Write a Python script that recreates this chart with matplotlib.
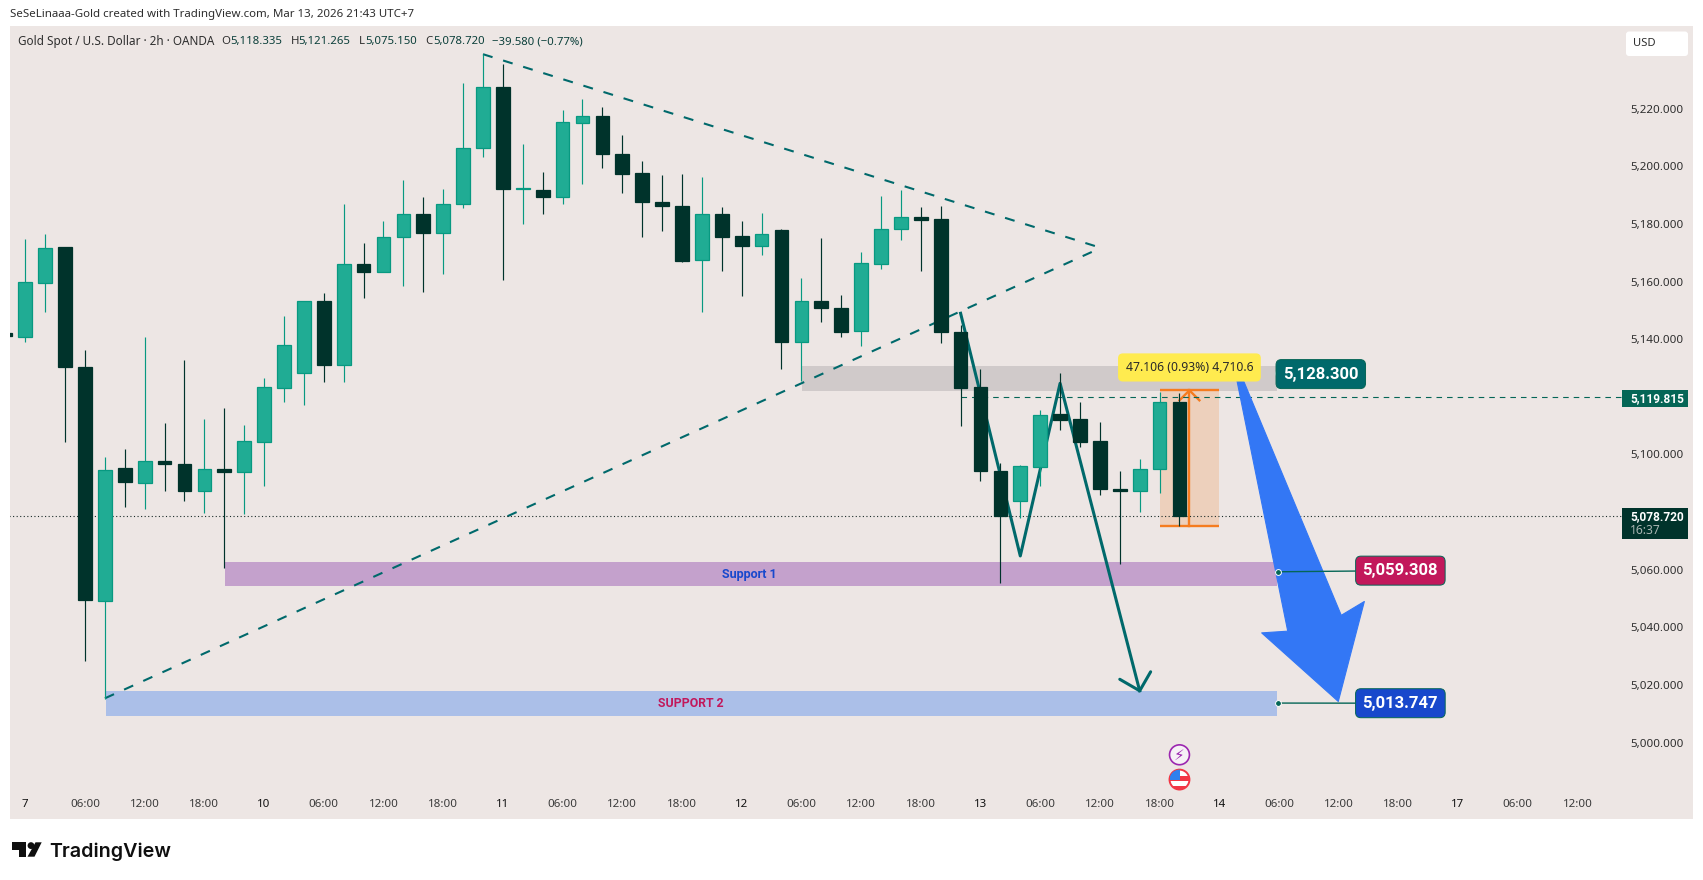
import matplotlib
matplotlib.use("Agg")
import matplotlib.pyplot as plt
from matplotlib.patches import Rectangle, Polygon, Ellipse, Circle, FancyBboxPatch
from matplotlib.transforms import IdentityTransform

plt.rcParams['font.family'] = ['Noto Sans', 'DejaVu Sans']

# ============================================================
# Data
# ============================================================
bar_index = list(range(-1, 59))
opens = [5142.0, 5140.9, 5159.6, 5172.0, 5130.5, 5049.2, 5095.4, 5090.0, 5097.9, 5096.7,
         5087.2, 5094.9, 5093.8, 5104.4, 5123.2, 5128.4, 5153.3, 5130.9, 5166.0, 5163.4,
         5175.3, 5183.4, 5177.0, 5186.9, 5206.4, 5227.4, 5192.0, 5191.9, 5189.2, 5215.1,
         5217.3, 5204.1, 5197.6, 5187.6, 5186.3, 5167.4, 5183.4, 5175.7, 5172.5, 5177.9,
         5138.9, 5153.3, 5150.8, 5142.7, 5166.2, 5178.1, 5182.4, 5181.8, 5142.6, 5123.3,
         5094.3, 5083.7, 5095.8, 5114.0, 5112.3, 5104.6, 5088.1, 5087.2, 5094.9, 5118.335]
highs = [5142.0, 5174.8, 5176.5, 5172.0, 5136.3, 5099.2, 5102.0, 5140.9, 5110.9, 5132.9,
         5112.2, 5116.2, 5110.4, 5126.5, 5148.2, 5153.3, 5155.9, 5187.0, 5173.3, 5181.1,
         5195.2, 5189.3, 5192.1, 5228.8, 5238.9, 5235.5, 5207.6, 5197.9, 5219.4, 5223.4,
         5220.5, 5210.7, 5202.0, 5196.9, 5197.2, 5196.2, 5185.8, 5180.9, 5183.7, 5178.3,
         5161.4, 5175.0, 5155.5, 5170.1, 5189.7, 5191.8, 5185.8, 5186.2, 5144.8, 5129.6,
         5097.0, 5096.4, 5115.4, 5128.2, 5118.1, 5111.2, 5094.3, 5098.4, 5121.8, 5121.265]
lows = [5141.0, 5138.9, 5149.6, 5104.3, 5028.3, 5015.1, 5081.8, 5081.1, 5087.2, 5084.0,
        5079.8, 5060.7, 5079.4, 5089.2, 5118.3, 5117.2, 5125.0, 5125.0, 5154.4, 5163.4,
        5158.5, 5156.5, 5162.6, 5185.4, 5203.3, 5160.6, 5180.1, 5183.6, 5186.8, 5194.0,
        5199.5, 5190.8, 5175.6, 5177.4, 5166.9, 5149.3, 5163.8, 5155.0, 5169.2, 5129.8,
        5125.6, 5146.1, 5140.6, 5137.5, 5164.5, 5174.5, 5163.8, 5138.6, 5110.0, 5090.8,
        5055.3, 5077.8, 5088.9, 5108.6, 5102.7, 5085.8, 5061.9, 5079.9, 5086.5, 5075.15]
closes = [5141.0, 5159.7, 5171.6, 5130.2, 5049.6, 5094.7, 5090.4, 5097.8, 5096.6, 5087.2,
          5094.9, 5093.8, 5104.6, 5123.3, 5138.0, 5153.3, 5130.9, 5166.0, 5163.4, 5175.4,
          5183.4, 5177.0, 5186.9, 5206.5, 5227.4, 5192.0, 5192.4, 5189.5, 5215.3, 5217.3,
          5204.3, 5197.5, 5187.5, 5186.1, 5167.3, 5183.4, 5175.6, 5172.5, 5176.4, 5138.9,
          5153.3, 5150.7, 5142.4, 5166.3, 5178.2, 5182.4, 5181.5, 5142.6, 5123.2, 5094.1,
          5078.7, 5095.9, 5113.6, 5112.1, 5104.5, 5088.2, 5087.2, 5094.9, 5118.2, 5078.72]

y_ticks = [5000, 5020, 5040, 5060, 5080, 5100, 5120, 5140, 5160, 5180, 5200, 5220]
x_tick_pos = list(range(0, 81, 3))
x_tick_labels = ['7', '06:00', '12:00', '18:00', '10', '06:00', '12:00', '18:00', '11',
                 '06:00', '12:00', '18:00', '12', '06:00', '12:00', '18:00', '13',
                 '06:00', '12:00', '18:00', '14', '06:00', '12:00', '18:00', '17',
                 '06:00', '12:00']

last_price = 5078.72
prev_close = 5119.815
anchor_x = 62.94
level_prices = [5128.3, 5059.308, 5013.747]
level_labels = ['5,128.300', '5,059.308', '5,013.747']
level_colors = ['#00696B', '#C2185B', '#1848CC']
level_label_x = [65.1, 69.1, 69.1]
level_label_y = [5127.9, 5059.7, 5013.7]

trend_low_x, trend_low_y = [4, 54.05], [5015.4, 5171.7]
trend_high_x, trend_high_y = [23, 54.05], [5238.9, 5171.7]
zigzag_x, zigzag_y = [47, 50, 52, 56], [5149.0, 5064.8, 5124.7, 5018.0]
head_x, head_y = [55.0, 56.0, 56.55], [5022.0, 5018.0, 5024.6]
blue_arrow_x = [60.88, 61.2, 66.13, 67.29, 65.98, 62.13, 63.44]
blue_arrow_y = [5125.9, 5125.9, 5044.2, 5049.0, 5014.3, 5038.1, 5038.7]

# bg and colours
PANEL = '#EDE6E4'
UP_FILL, UP_EDGE = '#20AC94', '#089981'
DOWN = '#00332B'
TEAL = '#00696B'
ORANGE = '#F57C1F'

W, H = 1703, 880


def px_x(x):
    return x / W


def px_y(y):
    return 1 - y / H


def draw_candles(ax):
    for i, o, h, l, c in zip(bar_index, opens, highs, lows, closes):
        up = c >= o
        ax.vlines(i, l, h, color=UP_EDGE if up else DOWN, linewidth=0.85, zorder=4)
        ax.bar(i, abs(c - o), bottom=min(o, c), width=0.69, zorder=5, linewidth=0.9,
               color=UP_FILL if up else DOWN, edgecolor=UP_EDGE if up else DOWN)


def draw_zones(ax):
    # rectangles sit under the candles
    ax.add_patch(Rectangle((39.03, 5122.1), 62.9 - 39.03, 8.6, color='#D0CACA', lw=0, zorder=1))
    ax.add_patch(Rectangle((10.03, 5054.4), 62.9 - 10.03, 8.3, color='#C4A1CC', lw=0, zorder=1))
    ax.add_patch(Rectangle((4.05, 5009.3), 62.9 - 4.05, 8.6, color='#ABBFE8', lw=0, zorder=1))
    ax.text(36.4, 5058.5, 'Support 1', color='#1848CC', fontsize=9.0, family='Roboto', fontweight='bold',
            ha='center', va='center', zorder=2)
    ax.text(33.44, 5013.6, 'SUPPORT 2', color='#C2185B', fontsize=8.8, family='Roboto', fontweight='bold',
            ha='center', va='center', zorder=2)
    # measure tool
    ax.add_patch(Rectangle((57, 5075.15), 3, 47.1, color='#EDD0BC', lw=0, zorder=1))
    ax.plot([57, 60], [5122.26, 5122.26], color=ORANGE, lw=1.7, zorder=3, solid_capstyle='butt')
    ax.plot([57, 60], [5075.15, 5075.15], color=ORANGE, lw=1.7, zorder=3, solid_capstyle='butt')
    ax.plot([58.5, 58.5], [5075.15, 5122.26], color=ORANGE, lw=1.7, zorder=3)
    ax.plot([58, 58.5, 59], [5118.8, 5122.26, 5118.8], color=ORANGE, lw=1.7, zorder=3)


def draw_lines(ax):
    dash = (0, (4.8, 5.3))
    ax.plot(trend_low_x, trend_low_y, color=TEAL, lw=1.5, linestyle=dash, zorder=2)
    ax.plot(trend_high_x, trend_high_y, color=TEAL, lw=1.5, linestyle=dash, zorder=2)
    ax.plot(zigzag_x, zigzag_y, color=TEAL, lw=2.2, zorder=2, solid_joinstyle='round')
    ax.plot(head_x, head_y, color=TEAL, lw=2.2, zorder=2, solid_joinstyle='round',
            solid_capstyle='round')
    ax.plot([-0.8, 80.2], [last_price, last_price], color='#1A2B28', lw=0.8,
            linestyle=(0, (1, 2.2)), zorder=3)
    ax.plot([47, 80.2], [prev_close, prev_close], color='#056656', lw=0.8,
            linestyle=(0, (5, 4.5)), zorder=3)


def draw_levels(ax):
    ax.add_patch(Polygon(list(zip(blue_arrow_x, blue_arrow_y)), closed=True, facecolor='#3377F5',
                         edgecolor='#3377F5', lw=0.8, joinstyle='round', zorder=6))
    for price, text, color, lx, ly in zip(level_prices, level_labels, level_colors,
                                          level_label_x, level_label_y):
        ax.plot([anchor_x, lx], [price, ly], color='#056656', lw=1.0, zorder=6)
        ax.plot(anchor_x, price, 'o', ms=4.2, mfc='#056656', mec='white', mew=0.7, zorder=7)
        ax.text(lx, ly, text, color='white', fontsize=12.0, family='Roboto', fontweight='bold', ha='center',
                va='center', zorder=8,
                bbox=dict(boxstyle='round,pad=0.42,rounding_size=0.32', fc=color, ec='#056656', lw=0.7))
    ax.text(58.5, 5130.2, '47.106 (0.93%) 4,710.6', color='#2A2A2A', fontsize=8.8, ha='center',
            va='center', zorder=9,
            bbox=dict(boxstyle='round,pad=0.62,rounding_size=0.4', fc='#FFEB4F', ec='none'))


def draw_axis_labels(ax):
    ax.add_patch(Rectangle((80.22, 5116.6), 3.32, 5.8, color='#056656', lw=0, zorder=8))
    ax.text(80.65, 5119.5, '5,119.815', color='white', fontsize=8.6, family='Roboto', fontweight='bold',
            va='center', ha='left', zorder=9)
    ax.add_patch(Rectangle((80.22, 5070.7), 3.32, 10.8, color=DOWN, lw=0, zorder=8))
    ax.text(80.65, 5078.4, '5,078.720', color='white', fontsize=8.6, family='Roboto', fontweight='bold',
            va='center', ha='left', zorder=9)
    ax.text(80.65, 5073.6, '16:37', color='#A9B5B2', fontsize=8.7, va='center', ha='left', zorder=9)


def draw_event_icons(ax):
    ax.add_patch(Ellipse((58, 4995.8), 1.0, 6.9, fc='#F6F1F6', ec='#9C27B0', lw=1.2, zorder=5))
    ax.text(58, 4995.6, '\u26a1', color='#9C27B0', fontsize=11, ha='center', va='center',
            family='DejaVu Sans', zorder=6)
    flag = Ellipse((58, 4987.2), 1.0, 6.9, fc='white', ec='#F23645', lw=1.4, zorder=5)
    ax.add_patch(flag)
    for bottom in [4983.6, 4986.8]:
        stripe = Rectangle((57.5, bottom), 1.0, 1.5, color='#F23645', lw=0, zorder=6)
        ax.add_patch(stripe)
        stripe.set_clip_path(flag)
    canton = Rectangle((57.5, 4987.2), 0.52, 3.6, color='#2F80ED', lw=0, zorder=7)
    ax.add_patch(canton)
    canton.set_clip_path(flag)


def draw_header(fig):
    fig.text(px_x(9.5), px_y(14.7), 'SeSeLinaaa-Gold created with TradingView.com, Mar 13, 2026 21:43 UTC+7',
             fontsize=8.28, color='#2E2E2E', va='center', ha='left')
    dark, teal = '#2E2E2E', '#0B3F3A'
    parts = [(17.7, 'Gold Spot / U.S. Dollar \u00b7 2h \u00b7 OANDA', dark, 8.45),
             (221.7, 'O', dark, 8.2), (230, '5,118.335', teal, 8.2),
             (291, 'H', dark, 8.2), (298, '5,121.265', teal, 8.2),
             (359, 'L', dark, 8.2), (365, '5,075.150', teal, 8.2),
             (425, 'C', dark, 8.2), (433.3, '5,078.720', teal, 8.2),
             (492.3, '\u221239.580 (\u22120.77%)', teal, 8.2)]
    for x, text, color, size in parts:
        fig.text(px_x(x), px_y(41.7), text, fontsize=size, color=color, va='center', ha='left')


def draw_logo(fig):
    ident = IdentityTransform()
    pts = [(12, 842.3), (26, 842.3), (26, 856.7), (18.5, 856.7), (18.5, 849.5), (12, 849.5)]
    fig.add_artist(Polygon([(x, H - y) for x, y in pts], fc='#0F0F0F', ec='none', transform=ident))
    fig.add_artist(Circle((31, H - 845.6), 3.4, fc='#0F0F0F', ec='none', transform=ident))
    pts = [(35.5, 842.3), (41.7, 842.3), (34.5, 856.7), (27.5, 856.7)]
    fig.add_artist(Polygon([(x, H - y) for x, y in pts], fc='#0F0F0F', ec='none', transform=ident))
    fig.text(px_x(49.3), px_y(856.7), 'TradingView', fontsize=14.2, family='Inter', fontweight='semibold',
             color='#0F0F0F', va='baseline', ha='left')
    # currency box, top right
    fig.add_artist(FancyBboxPatch((1628, H - 54), 58, 20.5, boxstyle='round,pad=2,rounding_size=3',
                                  fc='white', ec='none', transform=ident))
    fig.text(px_x(1633), px_y(44), 'USD', fontsize=8.1, color='#2E2E2E', va='center', ha='left')


def main():
    fig = plt.figure(figsize=(W / 100, H / 100), dpi=100, facecolor='white')
    ax = fig.add_axes([9.6 / W, 1 - 819 / H, (1692.7 - 9.6) / W, (819 - 26.3) / H])
    ax.set_facecolor(PANEL)
    for spine in ax.spines.values():
        spine.set_visible(False)

    ax.set_xlim(-0.789, 83.79)
    ax.set_ylim(4973.52, 5248.58)
    ax.set_axisbelow(True)

    ax.set_xticks(x_tick_pos)
    ax.set_xticklabels(x_tick_labels)
    ax.tick_params(axis='x', length=0, pad=-14.5, labelsize=8.3, colors='#3A3A3A')
    for label, text in zip(ax.get_xticklabels(), x_tick_labels):
        if ':' not in text:
            label.set_color('#111111')

    ax.yaxis.tick_right()
    ax.set_yticks(y_ticks)
    ax.set_yticklabels([f'{v:,.3f}' for v in y_ticks])
    ax.tick_params(axis='y', length=0, pad=-45, labelsize=8.3, colors='#2E2E2E')

    draw_zones(ax)
    draw_lines(ax)
    draw_candles(ax)
    draw_levels(ax)
    draw_axis_labels(ax)
    draw_event_icons(ax)
    draw_header(fig)
    draw_logo(fig)

    fig.savefig('out.png', dpi=100, facecolor='white')


if __name__ == "__main__":
    main()
